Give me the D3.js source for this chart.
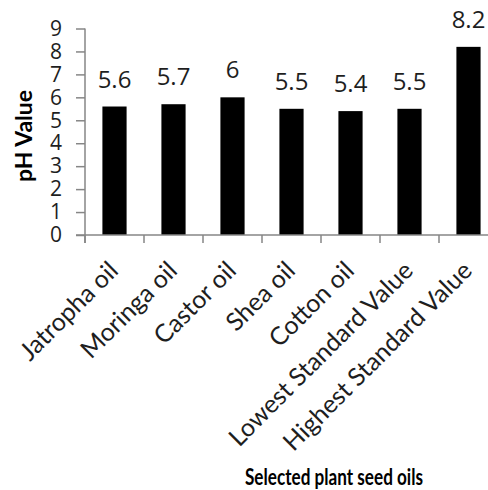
<!DOCTYPE html>
<html>
<head>
<meta charset="utf-8">
<script src="https://cdn.jsdelivr.net/npm/d3@7"></script>
<style>
  html, body { margin: 0; padding: 0; background: #fff; }
  svg { display: block; font-family: "Open Sans", sans-serif; }
</style>
</head>
<body>
<svg id="chart" width="488" height="490"></svg>
<script>
// pH of selected plant seed oils against standard limits
const categories = ["Jatropha oil", "Moringa oil", "Castor oil", "Shea oil", "Cotton oil", "Lowest Standard Value", "Highest Standard Value"];
const phValues = [5.6, 5.7, 6, 5.5, 5.4, 5.5, 8.2];
const yTicks = [0, 1, 2, 3, 4, 5, 6, 7, 8, 9];
const yTitle = "pH Value";
const xTitle = "Selected plant seed oils";

const svg = d3.select("#chart");
const axisColor = "#868686";
const textColor = "#1e1e1e";
const labelFont = "Lato, 'Open Sans', sans-serif";

const plotLeft = 85, plotBottom = 235, plotTop = 28.5, step = 59;

const x = d3.scaleBand()
  .domain(categories)
  .range([plotLeft, plotLeft + step * categories.length])
  .padding(0);

const y = d3.scaleLinear().domain([0, 9]).range([plotBottom, plotTop]);

const barW = x.bandwidth() * 0.41;

// bars
svg.append("g").selectAll("rect")
  .data(categories)
  .join("rect")
  .attr("x", (d) => x(d) + (x.bandwidth() - barW) / 2)
  .attr("y", (d, i) => y(phValues[i]))
  .attr("width", barW)
  .attr("height", (d, i) => y(0) - y(phValues[i]))
  .attr("fill", "#000");

// value labels
svg.append("g").selectAll("text")
  .data(categories)
  .join("text")
  .attr("x", (d) => x(d) + x.bandwidth() / 2)
  .attr("y", (d, i) => y(phValues[i]) - 19)
  .attr("text-anchor", "middle")
  .attr("font-size", 24)
  .attr("fill", textColor)
  .text((d, i) => phValues[i]);

// y axis
const yAxis = svg.append("g")
  .attr("transform", `translate(${plotLeft},0)`)
  .call(d3.axisLeft(y).tickValues(yTicks).tickSize(9).tickPadding(14).tickFormat(d3.format("d")));
yAxis.select(".domain").attr("stroke", axisColor).attr("stroke-width", 1.5)
  .attr("d", `M0,${plotTop}V${plotBottom + 8}`);
yAxis.selectAll(".tick line").attr("stroke", axisColor).attr("stroke-width", 1.5);
yAxis.selectAll(".tick text")
  .attr("font-family", "Open Sans, sans-serif")
  .attr("font-size", 21)
  .attr("fill", textColor);

// x axis: ticks on band boundaries
const xg = svg.append("g");
xg.append("line")
  .attr("x1", plotLeft - 9).attr("x2", x.range()[1])
  .attr("y1", plotBottom).attr("y2", plotBottom)
  .attr("stroke", axisColor).attr("stroke-width", 1.5);
xg.selectAll("line.tk")
  .data(categories)
  .join("line")
  .attr("class", "tk")
  .attr("x1", (d) => x(d)).attr("x2", (d) => x(d))
  .attr("y1", plotBottom).attr("y2", plotBottom + 8)
  .attr("stroke", axisColor).attr("stroke-width", 1.5);

// rotated category labels
xg.selectAll("text")
  .data(categories)
  .join("text")
  .attr("transform", (d) => `translate(${x(d) + x.bandwidth() / 2 - 1},${plotBottom + 31}) rotate(-45)`)
  .attr("text-anchor", "end")
  .attr("dy", "0.35em")
  .attr("font-family", labelFont)
  .attr("font-size", 25)
  .attr("fill", textColor)
  .text((d) => d);

// axis titles
svg.append("text")
  .attr("transform", `translate(32,${136}) rotate(-90)`)
  .attr("text-anchor", "middle")
  .attr("font-family", labelFont)
  .attr("font-size", 23)
  .attr("font-weight", "bold")
  .attr("fill", "#000")
  .text(yTitle);

svg.append("text")
  .attr("x", 334)
  .attr("y", 485)
  .attr("text-anchor", "middle")
  .attr("font-family", labelFont)
  .attr("font-size", 23)
  .attr("font-weight", "bold")
  .attr("textLength", 178)
  .attr("lengthAdjust", "spacingAndGlyphs")
  .attr("fill", "#000")
  .text(xTitle);
</script>
</body>
</html>
